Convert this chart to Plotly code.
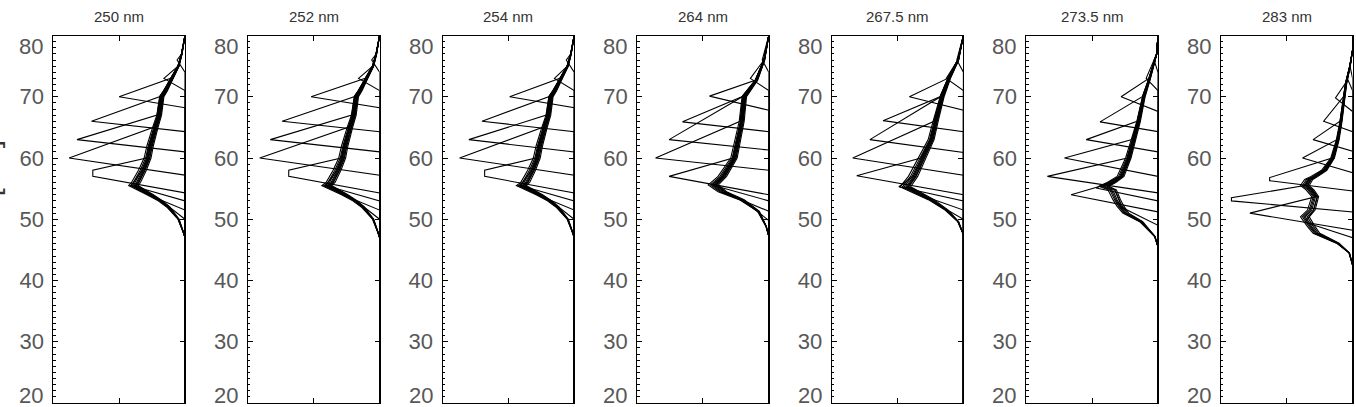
import plotly.graph_objects as go

titles = ["250 nm", "252 nm", "254 nm", "264 nm", "267.5 nm", "273.5 nm", "283 nm"]
inner_ticks = [30, 40, 50, 60, 70]
end_ticks = [20, 80]

# ---- envelope (common bundle) per panel: altitude [km] and leftward magnitude (fraction of axis) ----
env_z_250 = [20, 47, 48, 50, 52, 53, 54, 55, 55.5, 56, 58, 60, 62, 65, 67, 70, 71, 73, 75, 77, 80]
env_m_250 = [0, 0, 0.015, 0.05, 0.13, 0.19, 0.27, 0.36, 0.40, 0.38, 0.33, 0.29, 0.27, 0.23, 0.20, 0.18, 0.15, 0.10, 0.05, 0.025, 0]
env_z_252 = [20, 47, 48, 50, 52, 53, 54, 55, 55.5, 56, 58, 60, 62, 65, 67, 70, 71, 73, 75, 77, 80]
env_m_252 = [0, 0, 0.015, 0.05, 0.13, 0.19, 0.27, 0.36, 0.41, 0.38, 0.33, 0.29, 0.27, 0.23, 0.20, 0.18, 0.15, 0.10, 0.05, 0.025, 0]
env_z_254 = [20, 47, 48, 50, 52, 53, 54, 55, 55.5, 56, 58, 60, 62, 65, 67, 70, 71, 73, 75, 77, 80]
env_m_254 = [0, 0, 0.015, 0.05, 0.13, 0.19, 0.27, 0.36, 0.41, 0.38, 0.33, 0.29, 0.27, 0.23, 0.20, 0.18, 0.15, 0.10, 0.05, 0.025, 0]
env_z_264 = [20, 47.2, 48.8, 51.3, 53.2, 54.5, 55.6, 57, 60, 63, 66, 70, 72.7, 76, 80]
env_m_264 = [0, 0, 0.02, 0.08, 0.21, 0.36, 0.43, 0.36, 0.27, 0.24, 0.21, 0.19, 0.095, 0.035, 0]
env_z_2675 = [20, 47.5, 49.6, 51.5, 53.2, 54.6, 55.3, 57, 60, 63, 66, 70, 73, 76, 80]
env_m_2675 = [0, 0, 0.04, 0.13, 0.25, 0.38, 0.45, 0.39, 0.32, 0.25, 0.215, 0.165, 0.11, 0.04, 0]
env_z_2735 = [20, 45.5, 47.2, 49.6, 51, 52.1, 53.2, 54.8, 55.4, 56, 57, 60, 63, 66, 70, 73, 77, 80]
env_m_2735 = [0, 0, 0.025, 0.13, 0.25, 0.29, 0.32, 0.355, 0.42, 0.36, 0.29, 0.23, 0.19, 0.15, 0.11, 0.064, 0.01, 0]
env_z_283 = [20, 42.5, 44.5, 46.1, 47.7, 48.8, 50.4, 51.5, 53.7, 54.8, 55.5, 56.5, 57, 58, 60, 63, 66, 70, 72.2, 75, 77.6, 80]
env_m_283 = [0, 0, 0.026, 0.115, 0.28, 0.32, 0.37, 0.32, 0.29, 0.33, 0.37, 0.34, 0.295, 0.22, 0.155, 0.115, 0.09, 0.065, 0.05, 0.02, 0, 0]

# ---- spike curves: tip altitude, tip top, tip magnitude, right-edge return altitude, rejoin altitude ----
tip_h_250 = [76, 73, 70, 66, 63, 60, 57, 55.5, 54, 52.7]
tip_t_250 = [76, 73, 70, 66, 63, 60, 58, 55.5, 54, 52.7]
tip_m_250 = [0.06, 0.16, 0.50, 0.71, 0.82, 0.88, 0.70, 0.41, 0.28, 0.16]
ret_z_250 = [74, 71, 68.2, 64.3, 61, 57.2, 54.3, 53, 51.5, 50]
join_250 = [77, 74.5, 73, 70, 67, 64, 60, 57, 55, 54]

tip_h_252 = [76, 73, 70, 66, 63, 60, 57, 55.5, 54, 52.7]
tip_t_252 = [76, 73, 70, 66, 63, 60, 58, 55.5, 54, 52.7]
tip_m_252 = [0.06, 0.16, 0.52, 0.74, 0.83, 0.91, 0.69, 0.41, 0.28, 0.16]
ret_z_252 = [74, 71, 68.2, 64.3, 61, 57.2, 54.3, 53, 51.5, 50]
join_252 = [77, 74.5, 73, 70, 67, 64, 60, 57, 55, 54]

tip_h_254 = [76, 73, 70, 66, 63, 60, 57, 55.5, 54, 52.7]
tip_t_254 = [76, 73, 70, 66, 63, 60, 58, 55.5, 54, 52.7]
tip_m_254 = [0.06, 0.15, 0.49, 0.70, 0.80, 0.87, 0.68, 0.41, 0.28, 0.16]
ret_z_254 = [74, 71, 68.2, 64.3, 61, 57.2, 54.3, 53, 51.5, 50]
join_254 = [77, 74.5, 73, 70, 67, 64, 60, 57, 55, 54]

tip_h_264 = [76, 73, 70.1, 65.9, 63, 60, 57, 55.6, 54, 52.5]
tip_t_264 = [76, 73, 70.1, 65.9, 63, 60, 57, 55.6, 54, 52.5]
tip_m_264 = [0.05, 0.14, 0.45, 0.655, 0.757, 0.86, 0.757, 0.43, 0.3, 0.16]
ret_z_264 = [74, 71, 67.8, 64.3, 61.3, 58, 54, 53, 51.3, 49.8]
join_264 = [77, 74.5, 72.5, 69.5, 66.5, 63.5, 60, 57, 55, 54]

tip_h_2675 = [76, 73, 70, 66.1, 63, 60, 57.1, 55.3, 54, 52.5]
tip_t_2675 = [76, 73, 70, 66.1, 63, 60, 57.1, 55.3, 54, 52.5]
tip_m_2675 = [0.05, 0.13, 0.41, 0.61, 0.71, 0.84, 0.81, 0.49, 0.33, 0.2]
ret_z_2675 = [74, 71, 67.8, 64.3, 60.9, 57.2, 54, 53, 51.5, 50]
join_2675 = [77, 74.5, 72.5, 69.5, 66.5, 63.5, 60, 57, 55, 54]

tip_h_2735 = [76, 73, 70, 65.9, 63, 60, 57, 55.1, 54, 52]
tip_t_2735 = [76, 73, 70, 65.9, 63, 60, 57, 55.1, 54, 52]
tip_m_2735 = [0.03, 0.09, 0.28, 0.44, 0.545, 0.71, 0.84, 0.47, 0.66, 0.28]
ret_z_2735 = [74, 71, 67.6, 64.3, 61, 57, 54.3, 53, 51.2, 49]
join_2735 = [77, 75, 72, 68.5, 65.5, 62.5, 59.5, 57, 56, 53]

tip_h_283 = [75, 73, 69.8, 66, 63, 60, 56.3, 53, 51, 49.5]
tip_t_283 = [75, 73, 69.8, 66, 63, 60, 56.8, 53.5, 51, 49.5]
tip_m_283 = [0.02, 0.04, 0.13, 0.22, 0.30, 0.38, 0.63, 0.92, 0.78, 0.36]
ret_z_283 = [73, 71, 67.6, 64.3, 61.1, 57.6, 54.6, 51.2, 48.2, 47]
join_283 = [77, 75, 72, 68.5, 65.5, 62.5, 58.5, 55.5, 53, 51]

# envelope scale of each spike curve's upper part, and of the lowest (no-spike) curves
spike_scale = [1.0, 1.05, 1.09, 1.08, 1.06, 1.04, 1.01, 0.98, 0.95, 0.92]
base_scale = [0.89, 0.93, 0.97, 1.0, 1.03, 1.07]

panels = [
    (env_z_250, env_m_250, tip_h_250, tip_t_250, tip_m_250, ret_z_250, join_250),
    (env_z_252, env_m_252, tip_h_252, tip_t_252, tip_m_252, ret_z_252, join_252),
    (env_z_254, env_m_254, tip_h_254, tip_t_254, tip_m_254, ret_z_254, join_254),
    (env_z_264, env_m_264, tip_h_264, tip_t_264, tip_m_264, ret_z_264, join_264),
    (env_z_2675, env_m_2675, tip_h_2675, tip_t_2675, tip_m_2675, ret_z_2675, join_2675),
    (env_z_2735, env_m_2735, tip_h_2735, tip_t_2735, tip_m_2735, ret_z_2735, join_2735),
    (env_z_283, env_m_283, tip_h_283, tip_t_283, tip_m_283, ret_z_283, join_283),
]


def curve(env_z, env_m, ret, tip, top, m, join, s):
    xs = [0, 0]
    ys = [20, ret]
    if m > 0:
        xs += [-m, -m]
        ys += [tip, top]
    for z, v in zip(env_z, env_m):
        if z >= join:
            xs.append(-v * s)
            ys.append(z)
    return xs, ys


W, H = 1356, 407
fig = go.Figure()
left0, pitch, pw = 53.3, 194.6, 131.7
ytop, ybot = 35.5, 403.0
line = dict(color="black", width=1.1)
label_font = dict(family="Liberation Sans, Arial", size=22, color="#585858")
n = len(panels)

for i, (ez, em, th, tt, tm, rz, jz) in enumerate(panels):
    xa = "x" if i == 0 else f"x{i+1}"
    ya = "y" if i == 0 else f"y{i+1}"
    ym = f"y{n + i + 1}"  # overlay axis carrying the left-only minor ticks
    for s in base_scale:
        xs, ys = curve(ez, em, 20, 20, 20, 0, 20, s)
        fig.add_trace(go.Scatter(x=xs, y=ys, mode="lines", line=line, xaxis=xa, yaxis=ya,
                                 showlegend=False, hoverinfo="skip"))
    for k in range(len(th)):
        xs, ys = curve(ez, em, rz[k], th[k], tt[k], tm[k], jz[k], spike_scale[k])
        fig.add_trace(go.Scatter(x=xs, y=ys, mode="lines", line=line, xaxis=xa, yaxis=ya,
                                 showlegend=False, hoverinfo="skip"))
    fig.add_trace(go.Scatter(x=[None], y=[None], mode="lines", xaxis=xa, yaxis=ym,
                             showlegend=False, hoverinfo="skip"))

    L = left0 + i * pitch
    dom_x = [L / W, (L + pw) / W]
    dom_y = [1 - ybot / H, 1 - ytop / H]
    sfx = "" if i == 0 else str(i + 1)
    fig.layout["xaxis" + sfx] = dict(
        domain=dom_x, range=[-1, 0], anchor=ya, tickvals=[-0.5], showticklabels=False,
        ticks="inside", ticklen=5, tickcolor="black", showline=True, linecolor="black",
        linewidth=1, mirror="ticks", showgrid=False, zeroline=False, fixedrange=True,
        automargin=False)
    fig.layout["yaxis" + sfx] = dict(
        domain=dom_y, range=[20, 80], anchor=xa, tickvals=inner_ticks,
        ticks="inside", ticklen=5, tickcolor="black", showline=True, linecolor="black",
        linewidth=1, mirror="ticks", showgrid=False, zeroline=False,
        tickfont=label_font, ticklabelstandoff=4, ticklabeloverflow="allow",
        automargin=False, fixedrange=True)
    fig.layout[f"yaxis{n + i + 1}"] = dict(
        overlaying=ya, side="left", anchor=xa, range=[20, 80], tickvals=[],
        showticklabels=False, showline=False, showgrid=False, zeroline=False,
        minor=dict(ticks="inside", dtick=1, ticklen=2.5, tickcolor="black", showgrid=False),
        automargin=False, fixedrange=True)
    # end labels kept flush inside the frame (as in the reference)
    fig.add_annotation(text=str(end_ticks[1]), xref="paper", yref="paper",
                       x=(L - 8) / W, y=1 - 46.5 / H, showarrow=False,
                       xanchor="right", yanchor="middle", font=label_font)
    fig.add_annotation(text=str(end_ticks[0]), xref="paper", yref="paper",
                       x=(L - 8) / W, y=1 - 395 / H, showarrow=False,
                       xanchor="right", yanchor="middle", font=label_font)
    fig.add_annotation(text=titles[i], xref="paper", yref="paper",
                       x=(L + pw / 2) / W, y=1 - 17 / H, showarrow=False,
                       xanchor="center", yanchor="middle",
                       font=dict(family="Liberation Sans, Arial", size=15, color="#333333"))

fig.add_annotation(text="Altitude [km]", xref="paper", yref="paper", x=-12 / W, y=1 - 223 / H,
                   textangle=-90, showarrow=False, xanchor="center", yanchor="middle",
                   font=dict(family="Liberation Sans, Arial", size=30, color="#333333"))

fig.update_layout(width=W, height=H, margin=dict(l=0, r=0, t=0, b=0, autoexpand=False),
                  plot_bgcolor="white", paper_bgcolor="white", showlegend=False)
fig.write_html("out.html")
